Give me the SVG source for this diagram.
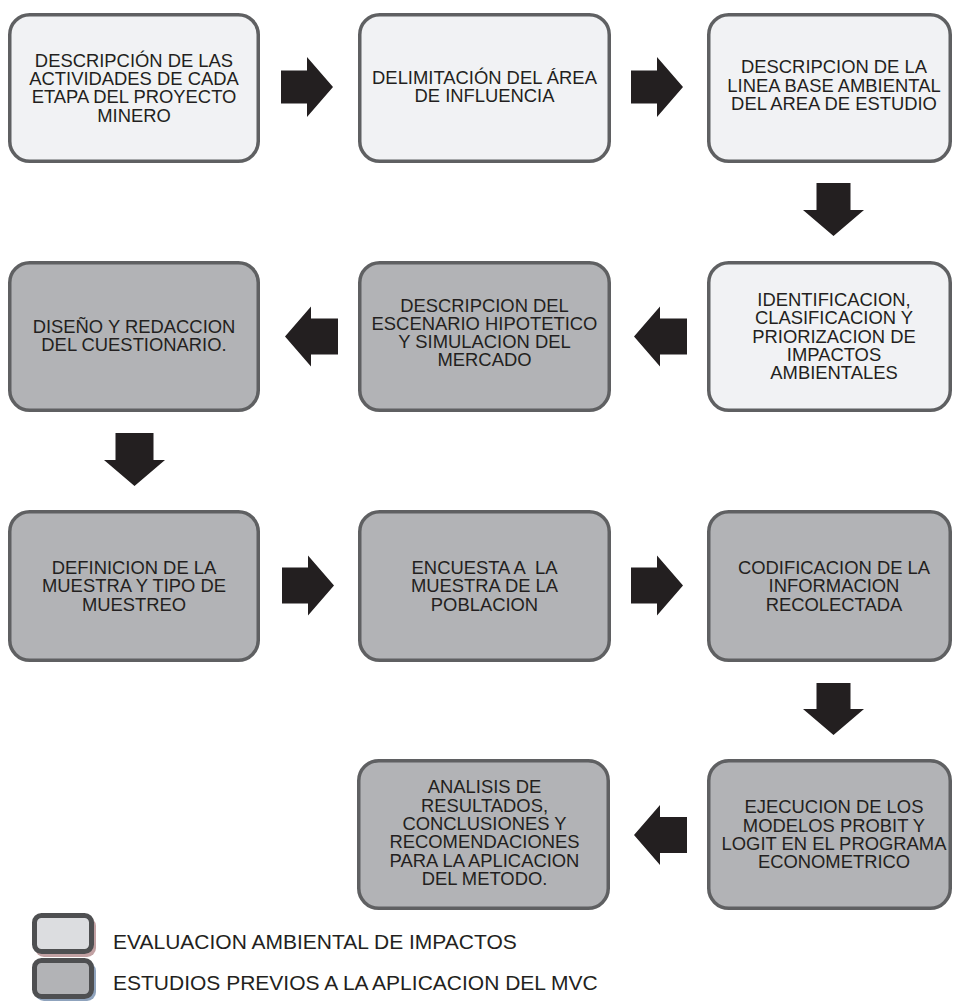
<svg xmlns="http://www.w3.org/2000/svg" width="953" height="1001" viewBox="0 0 953 1001">
<style>
.box{stroke:#5f6062;stroke-width:3.5}
.lt{fill:#f1f2f4}
.dk{fill:#b2b3b6}
.t{font-family:"Liberation Sans",Arial,sans-serif;font-size:18.4px;fill:#231f20;text-anchor:middle}
.lg{font-family:"Liberation Sans",Arial,sans-serif;font-size:21px;fill:#231f20}
.arr{fill:#231f20}
</style>
<rect width="953" height="1001" fill="#ffffff"/>
<g id="n1"><rect class="box lt" x="9.75" y="14.75" width="248.5" height="146.5" rx="20"/>
<text class="t"><tspan x="134" y="67">DESCRIPCIÓN DE LAS</tspan><tspan x="134" y="85.2">ACTIVIDADES DE CADA</tspan><tspan x="134" y="103.4">ETAPA DEL PROYECTO</tspan><tspan x="134" y="121.6">MINERO</tspan></text></g>
<g id="n2"><rect class="box lt" x="359.75" y="14.75" width="249.5" height="146.5" rx="20"/>
<text class="t"><tspan x="484.5" y="84">DELIMITACIÓN DEL ÁREA</tspan><tspan x="484.5" y="102.3">DE INFLUENCIA</tspan></text></g>
<g id="n3"><rect class="box lt" x="708.75" y="14.75" width="241.5" height="146.5" rx="20"/>
<text class="t"><tspan x="834" y="73.3">DESCRIPCION DE LA</tspan><tspan x="834" y="91.6">LINEA BASE AMBIENTAL</tspan><tspan x="834" y="110">DEL AREA DE ESTUDIO</tspan></text></g>
<g id="n4"><rect class="box lt" x="708.75" y="262.75" width="241.5" height="147.5" rx="20"/>
<text class="t"><tspan x="834" y="306">IDENTIFICACION,</tspan><tspan x="834" y="324.3">CLASIFICACION Y</tspan><tspan x="834" y="342.6">PRIORIZACION DE</tspan><tspan x="834" y="360.9">IMPACTOS</tspan><tspan x="834" y="379.2">AMBIENTALES</tspan></text></g>
<g id="n5"><rect class="box dk" x="359.75" y="262.75" width="249.5" height="147.5" rx="20"/>
<text class="t"><tspan x="484.5" y="311.5">DESCRIPCION DEL</tspan><tspan x="484.5" y="329.8">ESCENARIO HIPOTETICO</tspan><tspan x="484.5" y="348.1">Y SIMULACION DEL</tspan><tspan x="484.5" y="366.4">MERCADO</tspan></text></g>
<g id="n6"><rect class="box dk" x="9.75" y="262.75" width="248.5" height="147.5" rx="20"/>
<text class="t"><tspan x="134" y="333">DISEÑO Y REDACCION</tspan><tspan x="134" y="351.3">DEL CUESTIONARIO.</tspan></text></g>
<g id="n7"><rect class="box dk" x="9.75" y="511.75" width="248.5" height="148.5" rx="20"/>
<text class="t"><tspan x="134" y="573.5">DEFINICION DE LA</tspan><tspan x="134" y="592">MUESTRA Y TIPO DE</tspan><tspan x="134" y="610.5">MUESTREO</tspan></text></g>
<g id="n8"><rect class="box dk" x="359.75" y="511.75" width="249.5" height="148.5" rx="20"/>
<text class="t" xml:space="preserve"><tspan x="484.5" y="573.5">ENCUESTA A  LA</tspan><tspan x="484.5" y="592">MUESTRA DE LA</tspan><tspan x="484.5" y="610.5">POBLACION</tspan></text></g>
<g id="n9"><rect class="box dk" x="708.75" y="511.75" width="241.5" height="148.5" rx="20"/>
<text class="t"><tspan x="834" y="573.5">CODIFICACION DE LA</tspan><tspan x="834" y="592">INFORMACION</tspan><tspan x="834" y="610.5">RECOLECTADA</tspan></text></g>
<g id="n10"><rect class="box dk" x="708.75" y="760.75" width="241.5" height="147.5" rx="20"/>
<text class="t"><tspan x="834" y="813.3">EJECUCION DE LOS</tspan><tspan x="834" y="831.7">MODELOS PROBIT Y</tspan><tspan x="834" y="850">LOGIT EN EL PROGRAMA</tspan><tspan x="834" y="868.3">ECONOMETRICO</tspan></text></g>
<g id="n11"><rect class="box dk" x="358.75" y="760.75" width="249.5" height="147.5" rx="20"/>
<text class="t"><tspan x="484.5" y="793.3">ANALISIS DE</tspan><tspan x="484.5" y="811.7">RESULTADOS,</tspan><tspan x="484.5" y="830">CONCLUSIONES Y</tspan><tspan x="484.5" y="848.3">RECOMENDACIONES</tspan><tspan x="484.5" y="866.7">PARA LA APLICACION</tspan><tspan x="484.5" y="885">DEL METODO.</tspan></text></g>
<g id="connectors">
<polygon class="arr" points="281,70.5 307,70.5 307,57 333,87 307,117 307,103.5 281,103.5"/>
<polygon class="arr" points="631,70.5 657,70.5 657,57 683,87 657,117 657,103.5 631,103.5"/>
<polygon class="arr" points="816.5,183 850.5,183 850.5,210 864,210 833.5,236 803,210 816.5,210"/>
<polygon class="arr" points="687,318.5 660,318.5 660,306.5 634,336.5 660,366.5 660,354.5 687,354.5"/>
<polygon class="arr" points="338,318.5 311,318.5 311,306.5 285,336.5 311,366.5 311,354.5 338,354.5"/>
<polygon class="arr" points="115.5,433 153.5,433 153.5,460 165,460 134.5,486 104,460 115.5,460"/>
<polygon class="arr" points="282,567.5 308,567.5 308,555.5 334,585.5 308,615.5 308,603.5 282,603.5"/>
<polygon class="arr" points="631,567.5 657,567.5 657,555.5 683,585.5 657,615.5 657,603.5 631,603.5"/>
<polygon class="arr" points="816.5,683 850.5,683 850.5,709 864,709 833.5,735 803,709 816.5,709"/>
<polygon class="arr" points="687,817 660,817 660,805 634,835 660,865 660,853 687,853"/>
</g>
<g id="legend">
<rect x="35" y="917" width="61" height="40" rx="9" fill="#c2a1a3"/>
<rect x="34.5" y="915.5" width="57" height="36" rx="7" fill="#dcdde0" stroke="#4e4f51" stroke-width="5"/>
<text class="lg" x="113" y="949">EVALUACION AMBIENTAL DE IMPACTOS</text>
<rect x="35" y="962" width="61" height="39" rx="9" fill="#8fa3bd"/>
<rect x="34.5" y="960.5" width="57" height="36" rx="7" fill="#b2b3b6" stroke="#4e4f51" stroke-width="5"/>
<text class="lg" x="113" y="990">ESTUDIOS PREVIOS A LA APLICACION DEL MVC</text>
</g>
</svg>
